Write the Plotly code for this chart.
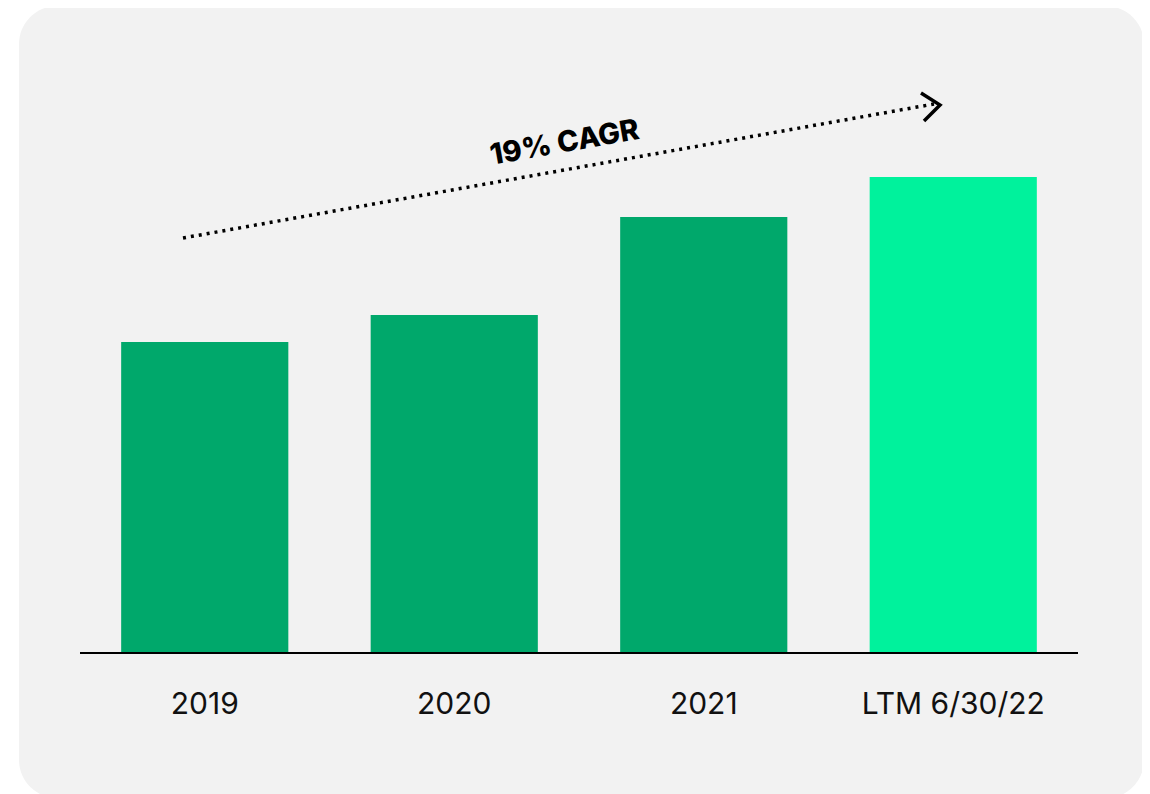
import plotly.graph_objects as go

# data (relative units)
periods = ["2019", "2020", "2021", "LTM 6/30/22"]
values = [3.10, 3.37, 4.35, 4.75]
bar_colors = ["#00A86B", "#00A86B", "#00A86B", "#00F29C"]
cagr_label = "19% CAGR"

W, H = 1150, 794
OFF = 8  # page body margin the figure sits inside
L, R, T, B = 72, 80, 32, 150
plot_w = W - L - R
plot_h = H - T - B


def px(x, y):
    """pixel position on the page -> paper coords"""
    return (x - OFF - L) / plot_w, (H - B - (y - OFF)) / plot_h


def rounded_rect(x0, y0, x1, y1, r):
    # cubic corners (0.55 ~ circular arc)
    k = 0.45 * r

    def p(x, y):
        a, b = px(x, y)
        return f"{a:.5f},{b:.5f}"
    return (f"M{p(x0 + r, y0)} L{p(x1 - r, y0)} "
            f"C{p(x1 - k, y0)} {p(x1, y0 + k)} {p(x1, y0 + r)} "
            f"L{p(x1, y1 - r)} C{p(x1, y1 - k)} {p(x1 - k, y1)} {p(x1 - r, y1)} "
            f"L{p(x0 + r, y1)} C{p(x0 + k, y1)} {p(x0, y1 - k)} {p(x0, y1 - r)} "
            f"L{p(x0, y0 + r)} C{p(x0, y0 + k)} {p(x0 + k, y0)} {p(x0 + r, y0)} Z")


fig = go.Figure()
fig.add_trace(go.Bar(
    x=periods,
    y=values,
    marker=dict(color=bar_colors, line=dict(width=0)),
    width=0.67,
))

# grey rounded card behind the chart
fig.add_shape(type="path", xref="paper", yref="paper", layer="below",
              path=rounded_rect(19, 6, 1144, 798, 38),
              fillcolor="#F2F2F2", line=dict(width=0))

# dotted trend arrow
sx, sy = px(183, 238)
ex, ey = px(934, 104)
fig.add_shape(type="line", xref="paper", yref="paper",
              x0=sx, y0=sy, x1=ex, y1=ey,
              line=dict(color="#000000", width=3.5, dash="3px,5px"))
a1 = px(921, 93)
a2 = px(940, 105)
a3 = px(924, 121)
fig.add_shape(type="path", xref="paper", yref="paper",
              path=f"M{a1[0]},{a1[1]} L{a2[0]},{a2[1]} L{a3[0]},{a3[1]}",
              line=dict(color="#000000", width=3.5))

tx, ty = px(564, 142)
fig.add_annotation(xref="paper", yref="paper", x=tx, y=ty,
                   xanchor="center", yanchor="middle",
                   text=cagr_label, showarrow=False, textangle=-10,
                   font=dict(family="Inter", size=29, weight=800, color="#000000"))

fig.update_layout(
    width=W, height=H,
    margin=dict(l=L, r=R, t=T, b=B),
    paper_bgcolor="#FFFFFF",
    plot_bgcolor="rgba(0,0,0,0)",
    showlegend=False,
    bargap=0.33,
    font=dict(family="Inter", color="#111111"),
)
fig.update_xaxes(
    type="category",
    showline=True, linecolor="#000000", linewidth=2,
    showgrid=False, zeroline=False,
    tickfont=dict(size=30, color="#111111"),
    ticklabelstandoff=24,
    ticks="",
)
# 1 y unit = 100 px of plot height
fig.update_yaxes(
    range=[0, plot_h / 100],
    visible=False, showgrid=False, zeroline=False,
)

fig.write_html("out.html")
